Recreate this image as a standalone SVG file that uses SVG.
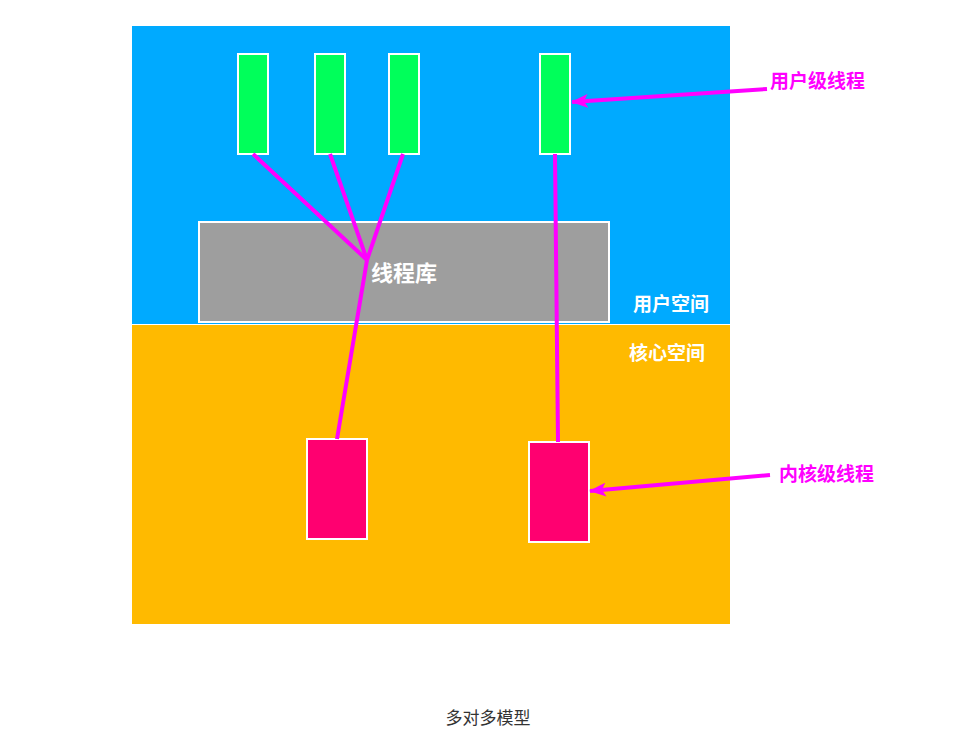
<svg xmlns="http://www.w3.org/2000/svg" width="976" height="752" viewBox="0 0 976 752">
<defs>
<style>
.ut{fill:#00ff5a;stroke:#fff;stroke-width:2}
.kt{fill:#ff0070;stroke:#fff;stroke-width:2}
.ln{stroke:#ff00ff;stroke-width:4;fill:none;stroke-linecap:butt}
.lbl{font-family:"Noto Sans CJK SC","Noto Sans",sans-serif;font-weight:bold;font-size:19px}
.wt{fill:#fff}
.mg{fill:#ff00ff}
</style>
<marker id="ah" markerUnits="userSpaceOnUse" markerWidth="20" markerHeight="14" refX="16" refY="7" orient="auto">
<path d="M0,0 L17,7 L0,14 L4,7 Z" fill="#ff00ff"/>
</marker>
</defs>
<rect x="0" y="0" width="976" height="752" fill="#fff"/>
<g id="user-space">
<rect x="132" y="26" width="598" height="298" fill="#00aaff"/>
<text class="lbl wt" x="633" y="311">用户空间</text>
</g>
<g id="kernel-space">
<rect x="132" y="325" width="598" height="299" fill="#ffba00"/>
<text class="lbl wt" x="629" y="360">核心空间</text>
</g>
<g id="thread-lib">
<rect x="199" y="222" width="410" height="100" fill="#9e9e9e" stroke="#fff" stroke-width="2"/>
</g>
<g id="ut1"><rect class="ut" x="238" y="54" width="30" height="100"/></g>
<g id="ut2"><rect class="ut" x="315" y="54" width="30" height="100"/></g>
<g id="ut3"><rect class="ut" x="389" y="54" width="30" height="100"/></g>
<g id="ut4"><rect class="ut" x="540" y="54" width="30" height="100"/></g>
<g id="kt1"><rect class="kt" x="307" y="439" width="60" height="100"/></g>
<g id="kt2"><rect class="kt" x="529" y="442" width="60" height="100"/></g>
<g id="connectors">
<line class="ln" x1="253" y1="154" x2="367" y2="260"/>
<line class="ln" x1="330" y1="154" x2="367" y2="260"/>
<line class="ln" x1="403" y1="154" x2="367" y2="260"/>
<line class="ln" x1="367" y1="260" x2="337" y2="439"/>
<line class="ln" x1="555" y1="154" x2="558" y2="442"/>
<line class="ln" x1="767" y1="89" x2="572" y2="102" marker-end="url(#ah)"/>
<line class="ln" x1="770" y1="475" x2="590" y2="491" marker-end="url(#ah)"/>
</g>
<text class="lbl wt" x="371" y="281" style="font-size:22px">线程库</text>
<g id="label-user"><text class="lbl mg" x="770" y="88">用户级线程</text></g>
<g id="label-kernel"><text class="lbl mg" x="779" y="481">内核级线程</text></g>
<text x="488" y="724" text-anchor="middle" font-family="'Noto Sans CJK SC','Noto Sans',sans-serif" font-size="17" fill="#333">多对多模型</text>
</svg>
